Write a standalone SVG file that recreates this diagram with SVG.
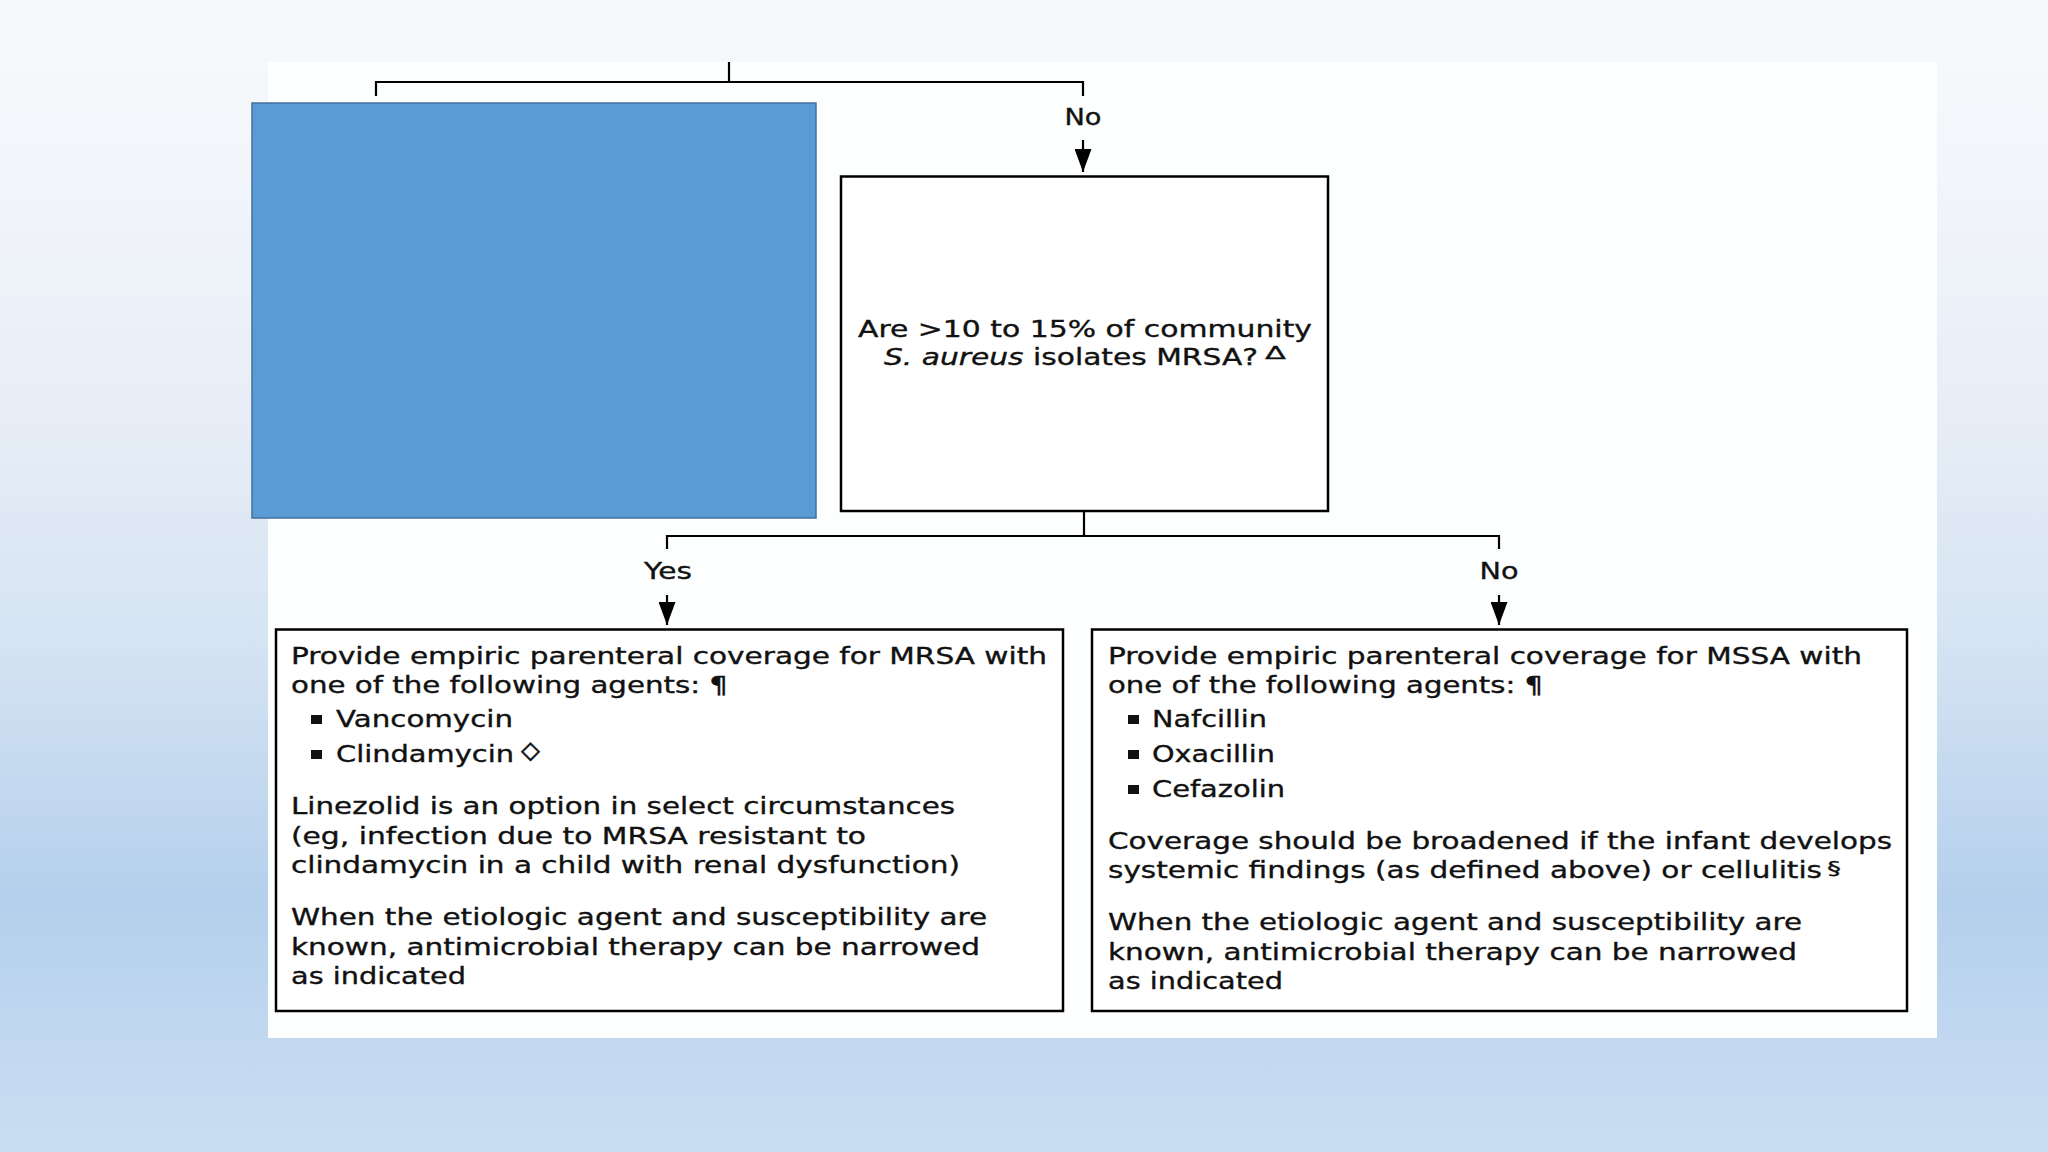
<svg xmlns="http://www.w3.org/2000/svg" width="2048" height="1152" viewBox="0 0 2048 1152">
  <defs>
    <linearGradient id="bg" x1="0" y1="0" x2="0" y2="1">
      <stop offset="0" stop-color="#f8f9fc"/>
      <stop offset="0.12" stop-color="#f4f6fb"/>
      <stop offset="0.35" stop-color="#e8eef7"/>
      <stop offset="0.55" stop-color="#d6e4f3"/>
      <stop offset="0.78" stop-color="#b5d0ec"/>
      <stop offset="1" stop-color="#cadef2"/>
    </linearGradient>
    <marker id="arrow" viewBox="0 0 23 17" refX="23" refY="8.5" markerWidth="23" markerHeight="17" markerUnits="userSpaceOnUse" orient="auto">
      <path d="M0,0 L23,8.5 L0,17 z" fill="#000"/>
    </marker>
    <style>
      .t { font-family: "DejaVu Sans", Verdana, sans-serif; font-size: 23px; fill: #111; stroke: #111; stroke-width: 0.35; }
      .lbl { font-family: "DejaVu Sans", Verdana, sans-serif; font-size: 23px; fill: #111; stroke: #111; stroke-width: 0.35; text-anchor: middle; }
      .sup { font-family: "DejaVu Sans", Verdana, sans-serif; font-size: 18px; fill: #111; stroke: #111; stroke-width: 0.3; }
      .box { fill: #ffffff; stroke: #000; stroke-width: 2.5; }
      .conn { fill: none; stroke: #000; stroke-width: 2.2; }
      .bul { fill: #111; }
    </style>
  </defs>

  <rect x="0" y="0" width="2048" height="1152" fill="url(#bg)"/>
  <rect x="268" y="62" width="1669" height="976" fill="#fdfefe"/>

  <g id="hidden-node">
    <rect x="252" y="103" width="564" height="415" fill="#5b9bd5" stroke="#41719c" stroke-width="1.5"/>
  </g>

  <g id="connectors">
    <path class="conn" d="M729,62 V82 M376,96 V82 H1083 V96"/>
    <path class="conn" d="M1083,140 V172" marker-end="url(#arrow)"/>
    <path class="conn" d="M1084,512 V536 M667,549 V536 H1499 V549"/>
    <path class="conn" d="M667,595 V625" marker-end="url(#arrow)"/>
    <path class="conn" d="M1499,595 V625" marker-end="url(#arrow)"/>
    <text class="lbl" x="1083" y="125" textLength="37" lengthAdjust="spacingAndGlyphs">No</text>
    <text class="lbl" x="668" y="579" textLength="48" lengthAdjust="spacingAndGlyphs">Yes</text>
    <text class="lbl" x="1499" y="579" textLength="39" lengthAdjust="spacingAndGlyphs">No</text>
  </g>

  <g id="question">
    <rect class="box" x="841" y="176.5" width="487" height="334.5"/>
    <text class="t" x="858" y="336.5" textLength="454" lengthAdjust="spacingAndGlyphs">Are &gt;10 to 15% of community</text>
    <text class="t" x="884" y="365" textLength="374" lengthAdjust="spacingAndGlyphs"><tspan font-style="italic">S. aureus</tspan> isolates MRSA?</text>
    <text class="sup" x="1265" y="359" textLength="21" lengthAdjust="spacingAndGlyphs">Δ</text>
  </g>

  <g id="mrsa">
    <rect class="box" x="276" y="629.5" width="787" height="381.5"/>
    <text class="t" x="291" y="664" textLength="756" lengthAdjust="spacingAndGlyphs">Provide empiric parenteral coverage for MRSA with</text>
    <text class="t" x="291" y="693" textLength="437" lengthAdjust="spacingAndGlyphs">one of the following agents: ¶</text>
    <rect class="bul" x="311" y="715" width="11" height="9"/>
    <text class="t" x="336" y="727" textLength="177" lengthAdjust="spacingAndGlyphs">Vancomycin</text>
    <rect class="bul" x="311" y="750" width="11" height="9"/>
    <text class="t" x="336" y="762" textLength="178" lengthAdjust="spacingAndGlyphs">Clindamycin</text>
    <text class="sup" x="521" y="757" textLength="19" lengthAdjust="spacingAndGlyphs">◊</text>
    <text class="t" x="291" y="814" textLength="664" lengthAdjust="spacingAndGlyphs">Linezolid is an option in select circumstances</text>
    <text class="t" x="291" y="843.5" textLength="575" lengthAdjust="spacingAndGlyphs">(eg, infection due to MRSA resistant to</text>
    <text class="t" x="291" y="873" textLength="669" lengthAdjust="spacingAndGlyphs">clindamycin in a child with renal dysfunction)</text>
    <text class="t" x="291" y="925" textLength="696" lengthAdjust="spacingAndGlyphs">When the etiologic agent and susceptibility are</text>
    <text class="t" x="291" y="955" textLength="689" lengthAdjust="spacingAndGlyphs">known, antimicrobial therapy can be narrowed</text>
    <text class="t" x="291" y="984" textLength="175" lengthAdjust="spacingAndGlyphs">as indicated</text>
  </g>

  <g id="mssa">
    <rect class="box" x="1092" y="629.5" width="815" height="381.5"/>
    <text class="t" x="1108" y="664" textLength="754" lengthAdjust="spacingAndGlyphs">Provide empiric parenteral coverage for MSSA with</text>
    <text class="t" x="1108" y="693" textLength="435" lengthAdjust="spacingAndGlyphs">one of the following agents: ¶</text>
    <rect class="bul" x="1128" y="715" width="11" height="9"/>
    <text class="t" x="1152" y="727" textLength="115" lengthAdjust="spacingAndGlyphs">Nafcillin</text>
    <rect class="bul" x="1128" y="750" width="11" height="9"/>
    <text class="t" x="1152" y="762" textLength="123" lengthAdjust="spacingAndGlyphs">Oxacillin</text>
    <rect class="bul" x="1128" y="785" width="11" height="9"/>
    <text class="t" x="1152" y="797" textLength="133" lengthAdjust="spacingAndGlyphs">Cefazolin</text>
    <text class="t" x="1108" y="849" textLength="784" lengthAdjust="spacingAndGlyphs">Coverage should be broadened if the infant develops</text>
    <text class="t" x="1108" y="878" textLength="714" lengthAdjust="spacingAndGlyphs">systemic findings (as defined above) or cellulitis</text>
    <text class="sup" x="1827" y="874" font-size="20" textLength="14" lengthAdjust="spacingAndGlyphs">§</text>
    <text class="t" x="1108" y="930" textLength="694" lengthAdjust="spacingAndGlyphs">When the etiologic agent and susceptibility are</text>
    <text class="t" x="1108" y="959.5" textLength="689" lengthAdjust="spacingAndGlyphs">known, antimicrobial therapy can be narrowed</text>
    <text class="t" x="1108" y="988.5" textLength="175" lengthAdjust="spacingAndGlyphs">as indicated</text>
  </g>
</svg>
